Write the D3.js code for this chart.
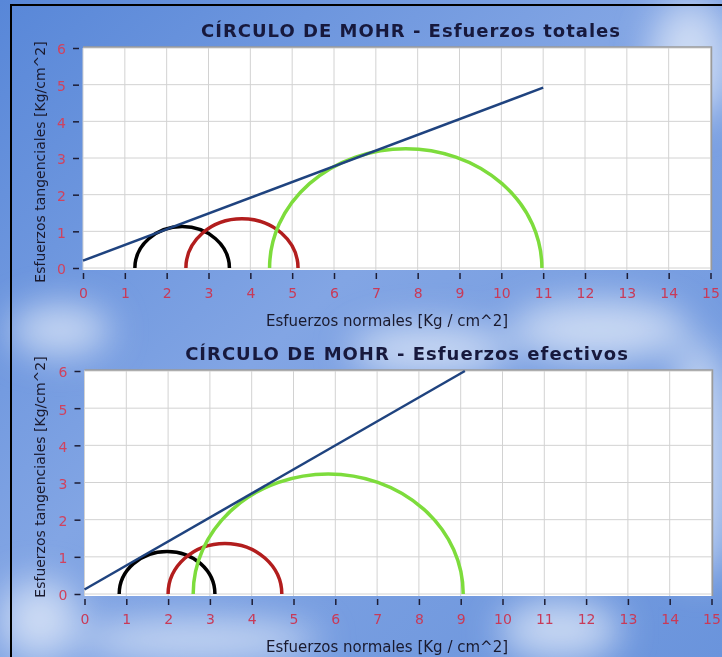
<!DOCTYPE html>
<html>
<head>
<meta charset="utf-8">
<script src="https://cdn.jsdelivr.net/npm/d3@7"></script>
<style>
  body { margin: 0; background: #fff; }
  svg { display: block; }
</style>
</head>
<body>
<div id="chart"></div>
<script>
var width = 722
var height = 657

// tick labels
var xTicks = [0, 1, 2, 3, 4, 5, 6, 7, 8, 9, 10, 11, 12, 13, 14, 15]
var yTicks = [0, 1, 2, 3, 4, 5, 6]

// circle colours, same order in both charts
var circleColors = ["#000000", "#b21d1d", "#7ddc3c"]

// esfuerzos totales: sigma3 / sigma1 of each circle, and the envelope
var totalSigma3 = [1.24, 2.46, 4.46]
var totalSigma1 = [3.50, 5.14, 10.97]
var totalEnvX = [0, 11]
var totalEnvY = [0.2, 4.92]

// esfuerzos efectivos
var effSigma3 = [0.83, 2.00, 2.60]
var effSigma1 = [3.12, 4.72, 9.06]
var effEnvX = [0, 9.1]
var effEnvY = [0.12, 6.0]

var svg = d3.select("#chart").append("svg")
    .attr("width", width)
    .attr("height", height)

var defs = svg.append("defs")
var bg = defs.append("linearGradient").attr("id", "bg")
    .attr("x1", "0").attr("y1", "0").attr("x2", "1").attr("y2", "1")
bg.append("stop").attr("offset", "0%").attr("stop-color", "#5887d8")
bg.append("stop").attr("offset", "45%").attr("stop-color", "#82a5e4")
bg.append("stop").attr("offset", "100%").attr("stop-color", "#6a94dc")
defs.append("filter").attr("id", "blur")
    .attr("x", "-50%").attr("y", "-50%").attr("width", "200%").attr("height", "200%")
    .append("feGaussianBlur").attr("stdDeviation", 18)

svg.append("rect").attr("width", width).attr("height", height).attr("fill", "url(#bg)")

// whitish cloud streaks
var clouds = [[690, 60, 40, 60], [600, 330, 90, 30], [430, 350, 80, 25], [60, 330, 50, 25],
    [700, 460, 30, 120], [200, 640, 120, 20], [560, 630, 60, 30], [40, 620, 40, 40]]
svg.append("g").attr("filter", "url(#blur)")
    .selectAll("ellipse").data(clouds).join("ellipse")
    .attr("cx", d => d[0]).attr("cy", d => d[1])
    .attr("rx", d => d[2]).attr("ry", d => d[3])
    .attr("fill", "#e4ecfa").attr("opacity", 0.75)

// black frame on top and left
svg.append("rect").attr("x", 10).attr("y", 4).attr("width", width - 10).attr("height", 2).attr("fill", "#000")
svg.append("rect").attr("x", 10).attr("y", 4).attr("width", 2).attr("height", height - 4).attr("fill", "#000")

function drawChart(opt) {
    var x = d3.scaleLinear().domain([0, 15]).range([opt.left, opt.right])
    var y = d3.scaleLinear().domain([0, 6]).range([opt.bottom, opt.top])
    var g = svg.append("g")

    g.append("rect")
        .attr("x", opt.left).attr("y", opt.top - 1)
        .attr("width", opt.right - opt.left + 1).attr("height", opt.bottom - opt.top + 3)
        .attr("fill", "#ffffff")

    // grid
    g.selectAll(".vg").data(xTicks).join("line")
        .attr("x1", d => x(d)).attr("x2", d => x(d))
        .attr("y1", opt.top).attr("y2", opt.bottom + 2)
        .attr("stroke", "#d2d2d2").attr("stroke-width", 1)
    g.selectAll(".hg").data(yTicks).join("line")
        .attr("x1", opt.left).attr("x2", opt.right)
        .attr("y1", d => y(d)).attr("y2", d => y(d))
        .attr("stroke", "#d2d2d2").attr("stroke-width", 1)

    // gray edge top / right
    g.append("path")
        .attr("d", "M" + opt.left + "," + (opt.top - 1) + "H" + (opt.right + 1) + "V" + (opt.bottom + 2))
        .attr("fill", "none").attr("stroke", "#9a9a9a").attr("stroke-width", 1.5)

    // x axis
    var xAxis = g.append("g")
        .attr("transform", "translate(0," + (opt.bottom + 5) + ")")
        .call(d3.axisBottom(x).tickValues(xTicks).tickFormat(d3.format("d"))
            .tickSize(6).tickPadding(9).tickSizeOuter(0))
    xAxis.select(".domain").remove()
    xAxis.selectAll("line").attr("stroke", "#1c1c34").attr("stroke-width", 1.5)
    xAxis.selectAll("text")
        .attr("fill", "#c83a58")
        .style("font-family", "DejaVu Sans, sans-serif")
        .style("font-size", "14px")

    // y axis
    var yAxis = g.append("g")
        .attr("transform", "translate(" + (opt.left - 4) + ",0)")
        .call(d3.axisLeft(y).tickValues(yTicks).tickFormat(d3.format("d"))
            .tickSize(6).tickPadding(7).tickSizeOuter(0))
    yAxis.select(".domain").remove()
    yAxis.selectAll("line").attr("stroke", "#1c1c34").attr("stroke-width", 1.5)
    yAxis.selectAll("text")
        .attr("fill", "#d0425e")
        .attr("dy", "0.42em")
        .style("font-family", "DejaVu Sans, sans-serif")
        .style("font-size", "14px")

    // mohr circles as arcs in data space
    var circles = opt.s3.map((s, i) => ({s3: s, s1: opt.s1[i], color: circleColors[i]}))
    g.selectAll(".circ").data(circles).join("path")
        .attr("d", d => {
            var r = (d.s1 - d.s3) / 2
            var rx = x(r) - x(0)
            var ry = y(0) - y(r)
            return "M" + x(d.s3) + "," + y(0) + "A" + rx + "," + ry + " 0 0 1 " + x(d.s1) + "," + y(0)
        })
        .attr("fill", "none")
        .attr("stroke", d => d.color)
        .attr("stroke-width", 3.5)

    // envelope
    var env = opt.envX.map((v, i) => [v, opt.envY[i]])
    g.append("path")
        .datum(env)
        .attr("d", d3.line().x(d => x(d[0])).y(d => y(d[1])))
        .attr("fill", "none")
        .attr("stroke", "#1f437f")
        .attr("stroke-width", 2.5)

    g.append("text")
        .attr("x", opt.titleX).attr("y", opt.top - 11)
        .attr("text-anchor", "middle")
        .attr("fill", "#17193d")
        .style("font-family", "DejaVu Sans, sans-serif")
        .style("font-weight", "bold")
        .style("font-size", "18px")
        .style("letter-spacing", "1px")
        .text(opt.title)

    g.append("text")
        .attr("x", 387).attr("y", opt.bottom + 58)
        .attr("text-anchor", "middle")
        .attr("fill", "#1a1a2e")
        .style("font-family", "DejaVu Sans, sans-serif")
        .style("font-size", "15px")
        .text("Esfuerzos normales [Kg / cm^2]")

    g.append("text")
        .attr("transform", "translate(45," + opt.yTitleY + ") rotate(-90)")
        .attr("text-anchor", "middle")
        .attr("fill", "#1a1a2e")
        .style("font-family", "DejaVu Sans, sans-serif")
        .style("font-size", "14px")
        .text("Esfuerzos tangenciales [Kg/cm^2]")
}

drawChart({
    title: "CÍRCULO DE MOHR - Esfuerzos totales",
    left: 83, right: 710.5, top: 48, bottom: 268, titleX: 411, yTitleY: 162,
    s3: totalSigma3, s1: totalSigma1, envX: totalEnvX, envY: totalEnvY
})

drawChart({
    title: "CÍRCULO DE MOHR - Esfuerzos efectivos",
    left: 84.5, right: 711.5, top: 371, bottom: 594, titleX: 407, yTitleY: 477,
    s3: effSigma3, s1: effSigma1, envX: effEnvX, envY: effEnvY
})
</script>
</body>
</html>
